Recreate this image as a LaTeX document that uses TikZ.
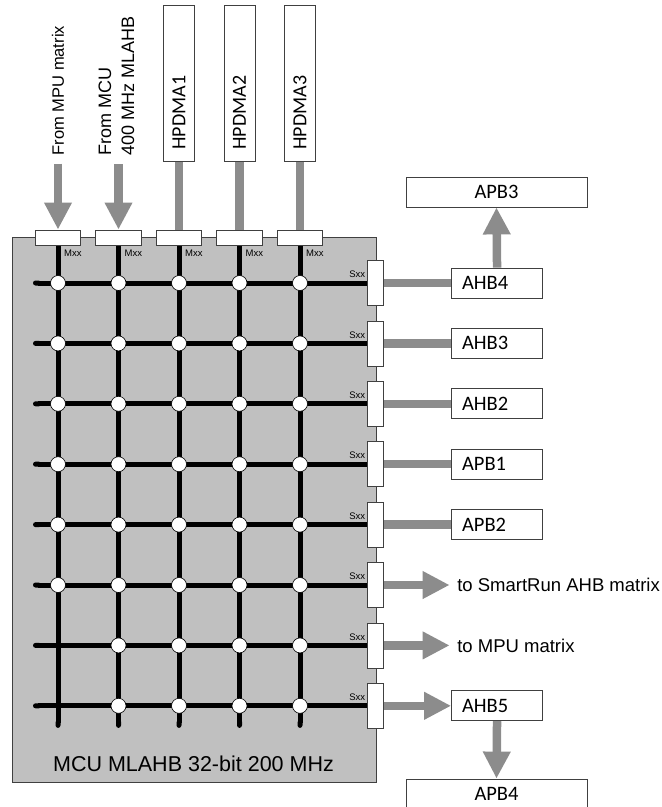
\documentclass[tikz,border=0pt]{standalone}
\usepackage{fontspec}
\setmainfont{Liberation Sans}
\newfontfamily\boxfont{Carlito}
\usetikzlibrary{arrows.meta, positioning, calc}
\definecolor{blockgray}{HTML}{C0C0C0}
\definecolor{linkgray}{HTML}{8C8C8C}
\definecolor{edgegray}{HTML}{404040}

\begin{document}
\begin{tikzpicture}[x=1pt, y=-1pt,
  port/.style={draw=edgegray, fill=white, line width=0.8pt, inner sep=0pt},
  bus/.style={line width=5pt},
  xpoint/.style={draw=black, fill=white, line width=0.6pt},
  link/.style={linkgray, line width=8.5pt},
  flow/.style={link, -{Triangle[length=27pt, width=26pt]}},
  tiny/.style={inner sep=0pt, font=\fontsize{9.5}{11}\selectfont},
  busbox/.style={draw=edgegray, fill=white, line width=0.8pt, minimum width=91pt,
    minimum height=30pt, inner xsep=10.5pt, inner ysep=0pt, text width=70pt, align=left,
    font=\boxfont\fontsize{20.5}{24}\selectfont},
  widebox/.style={busbox, minimum width=181pt, text width=160pt, align=center},
  dmabox/.style={draw=edgegray, fill=white, line width=0.8pt, rotate=90, anchor=west,
    minimum width=156pt, minimum height=31pt, inner xsep=12pt, inner ysep=0pt,
    text width=132pt, align=left, font=\boxfont\fontsize{20}{24}\selectfont},
  toplabel/.style={rotate=90, anchor=west, inner sep=0pt, align=left,
    font=\fontsize{16.5}{23}\selectfont},
  sidelabel/.style={inner sep=0pt, font=\fontsize{18.5}{22}\selectfont}
]
\useasboundingbox (0,0) rectangle (662,807);
\clip (0,0) rectangle (662,807);

% MLAHB block
\node[draw=edgegray, fill=blockgray, line width=0.8pt, minimum width=364pt,
  minimum height=545pt, inner sep=0pt] (mlahb) at (194,509.5) {};
\node[anchor=base, inner sep=0pt, font=\fontsize{21.5}{24}\selectfont] (title)
  at (193.5,771) {MCU MLAHB 32-bit 200 MHz};

% Master and slave ports
\foreach \i in {1,...,5}
  \node[port, minimum width=45.5pt, minimum height=15.5pt] (m\i) at ({58+60.5*(\i-1)},237.7) {};
\foreach \j in {1,...,8}
  \node[port, minimum width=15.5pt, minimum height=45pt] (s\j) at (375.5,{283+60.4*(\j-1)}) {};

% Crossbar
\foreach \i in {1,...,5} {
  \draw[bus, -{Round Cap[]}] (m\i.south) -- ++(0,482);
  \node[tiny, anchor=north west] (ml\i) at ($(m\i.south)+(6,4)$) {Mxx};
}
\foreach \j in {1,...,8} {
  \draw[bus, {Round Cap[]}-] (33,0 |- s\j.west) -- (s\j.west);
  \node[tiny, anchor=south east] (sl\j) at ($(s\j.west)+(-2,-5)$) {Sxx};
}
\foreach \j in {1,...,6}
  \foreach \i in {1,...,5}
    \draw[xpoint] (m\i.south |- s\j.west) circle (7.5pt);
\foreach \j in {7,8}
  \foreach \i in {2,...,5}
    \draw[xpoint] (m\i.south |- s\j.west) circle (7.5pt);

% Masters
\node[toplabel] (fmpu) at (58,155.5) {From MPU matrix};
\node[toplabel, font=\fontsize{18}{23}\selectfont] (fmcu) at (116.5,156) {From MCU\\400 MHz MLAHB};
\draw[flow, shorten <=8pt] (m1.north |- fmpu.west) -- (m1.north);
\draw[flow, shorten <=8pt] (m2.north |- fmcu.west) -- (m2.north);
\node[dmabox] (hp1) at (179,162) {HPDMA1};
\node[dmabox] (hp2) at (239.5,162) {HPDMA2};
\node[dmabox] (hp3) at (300,162) {HPDMA3};
\draw[link] (hp1.west) -- (m3.north);
\draw[link] (hp2.west) -- (m4.north);
\draw[link] (hp3.west) -- (m5.north);

% Slaves
\foreach \j/\name in {1/AHB4, 2/AHB3, 3/AHB2, 4/APB1, 5/APB2} {
  \node[busbox, right=67.5pt of s\j] (b\j) {\name};
  \draw[link] (s\j.east) -- (b\j.west);
}
\draw[flow] (s6.east) -- ++(66,0) coordinate (t6);
\node[sidelabel, right=7.5pt of t6] (smartrun) {to SmartRun AHB matrix};
\draw[flow] (s7.east) -- ++(66,0) coordinate (t7);
\node[sidelabel, right=7.5pt of t7] (mpu) {to MPU matrix};
\node[busbox, right=67.5pt of s8] (b8) {AHB5};
\draw[flow] (s8.east) -- (b8.west);

% Peripheral bridges
\node[widebox] (apb3) at (496.5,192) {APB3};
\draw[flow] (b1.north) -- (apb3.south);
\node[widebox] (apb4) at (496.5,794) {APB4};
\draw[flow] (b8.south) -- (apb4.north);

\end{tikzpicture}
\end{document}
